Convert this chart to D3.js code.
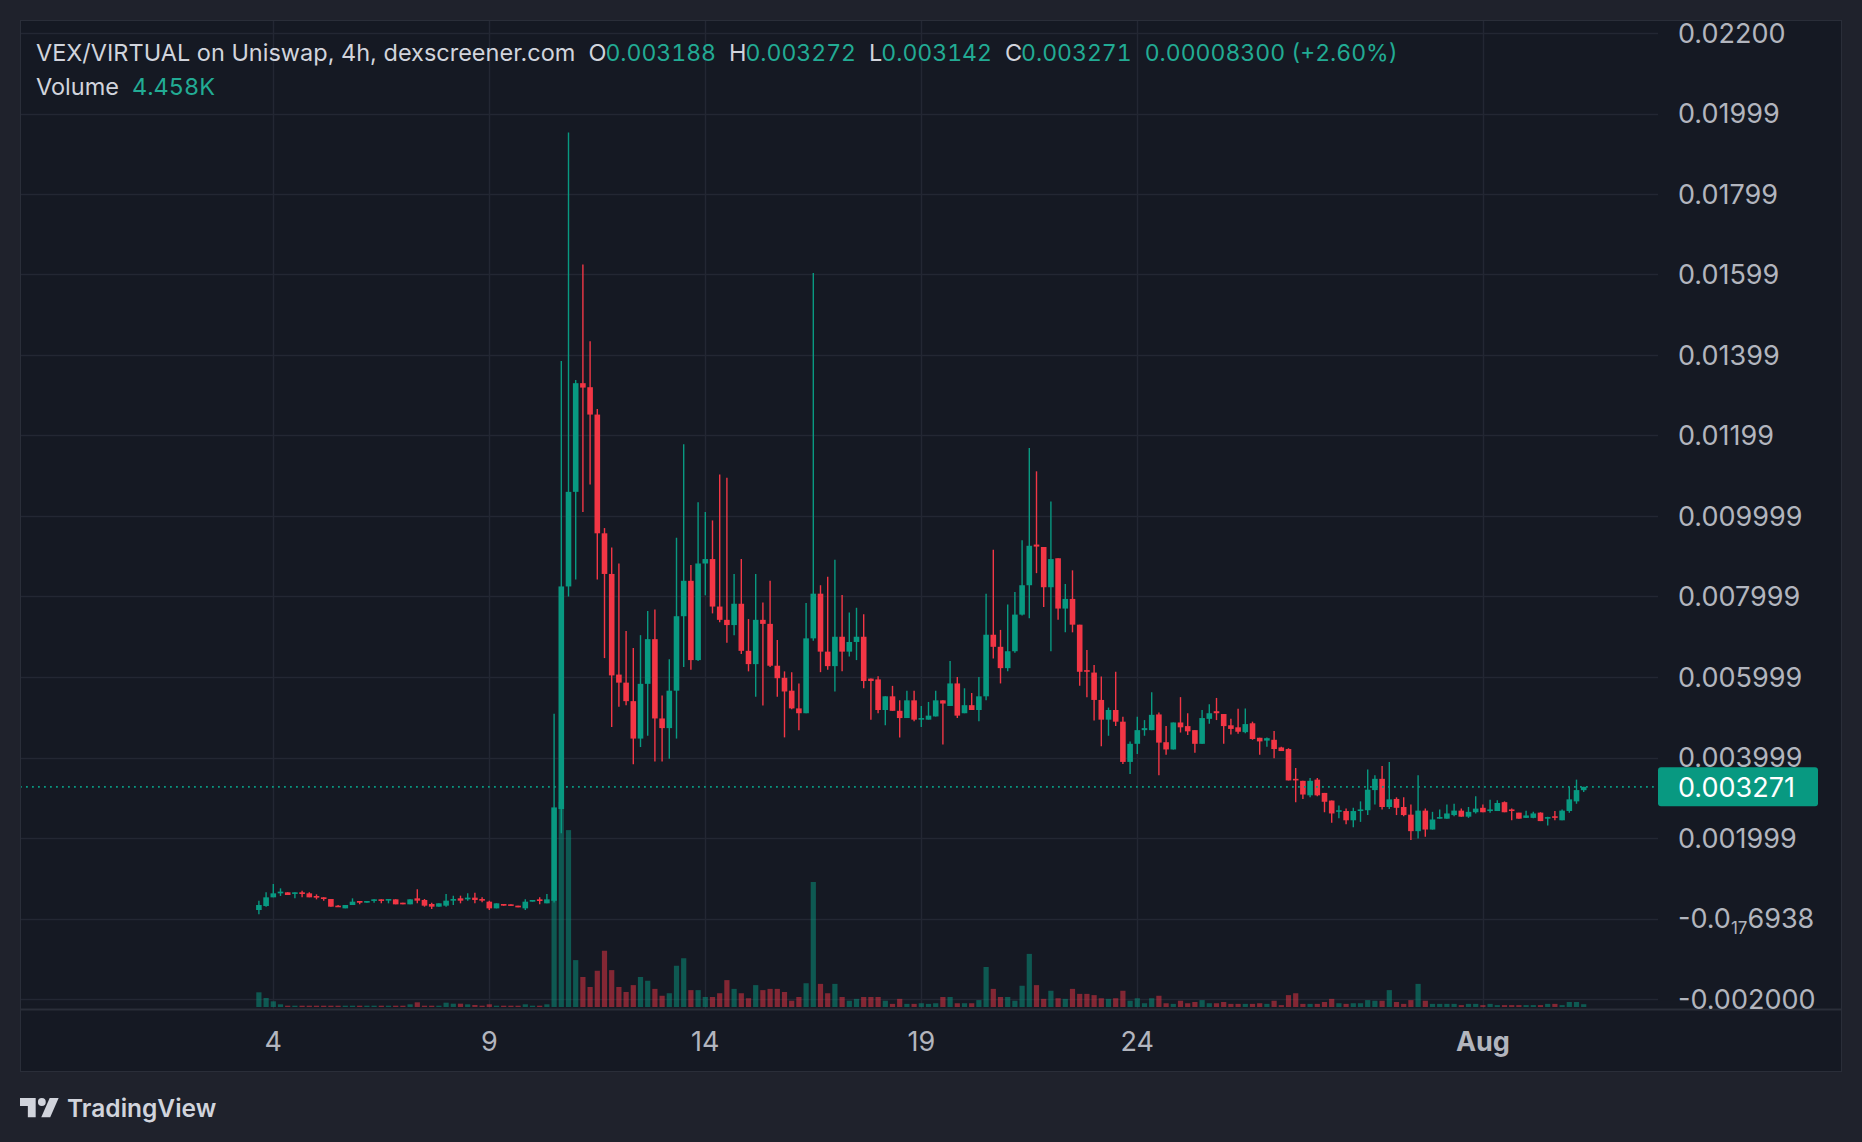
<!doctype html>
<html lang="en">
<head>
<meta charset="utf-8">
<title>VEX/VIRTUAL on Uniswap, 4h</title>
<script src="https://d3js.org/d3.v7.min.js"></script>
<style>
  html, body { margin: 0; padding: 0; background: #1f222c; }
  svg { display: block; font-family: Inter, "Noto Sans", sans-serif; }
  .num { font-variant-numeric: tabular-nums; }
</style>
</head>
<body>
<div id="chart"></div>
<script>
// 4h candles, first bar 3 Jul 16:00 UTC
const firstBar = "2024-07-03T16:00:00Z";

const opens = [
  .000211, .00031, .000526, .000625, .00065, .000625, .00065, .000625, .000559, .000526,
  .000484, .000319, .000252, .000335, .000435, .000393, .000443, .000476, .000451, .000476,
  .000393, .000352, .000501, .00046, .00036, .000294, .000319, .000443, .000501, .000476,
  .000518, .000484, .000418, .000252, .00036, .000352, .000319, .000252, .000418, .000476,
  .000377, .00044, .00272, .00825, .0106, .0133, .0132, .01252, .00957, .00856,
  .00606, .00586, .0054, .00447, .00583, .00694, .00497, .00473, .00566, .00751,
  .00839, .00642, .00882, .00893, .00775, .00742, .00729, .00782, .00665, .00632,
  .00742, .00732, .00628, .00598, .00566, .00522, .0051, .00696, .00807, .00663,
  .00627, .007, .00663, .00687, .007, .00596, .00594, .00518, .00552, .00516,
  .00498, .00542, .00494, .00494, .00502, .00542, .00528, .00584, .0051, .0053,
  .00518, .00552, .00705, .00675, .00622, .00664, .00755, .00828, .00929, .00923,
  .00823, .00895, .0077, .00794, .0073, .00617, .00611, .00543, .00494, .00518,
  .00489, .00389, .00434, .00468, .00468, .00507, .00438, .0042, .00487, .00478,
  .00468, .00434, .00496, .00515, .00508, .0048, .00475, .00463, .00485, .00449,
  .00442, .00444, .00425, .00421, .00347, .00342, .00306, .00345, .00312, .00293,
  .00265, .00267, .00244, .00267, .00269, .00319, .00347, .00277, .00297, .00277,
  .00258, .00217, .00268, .00221, .00248, .00248, .00257, .00268, .00253, .00264,
  .00275, .00267, .00267, .00289, .00271, .00263, .0025, .0025, .00263, .00249,
  .00254, .00244, .00267, .00291, .003188
];
const highs = [
  .000443, .00065, .000857, .000749, .00065, .00065, .000691, .00065, .0006, .000526,
  .000484, .000335, .000335, .000501, .000435, .000435, .000476, .000476, .000484, .000476,
  .000393, .000476, .000725, .000484, .000393, .000377, .000609, .000567, .000567, .000625,
  .000642, .000526, .000443, .000377, .00036, .000352, .000319, .000476, .00046, .000526,
  .000609, .00509, .01385, .01953, .01338, .01625, .01434, .01266, .0097, .00922,
  .00882, .00714, .00672, .00704, .00764, .00768, .00554, .00644, .00946, .01178,
  .00878, .01034, .0101, .00989, .01103, .01095, .00856, .00893, .00744, .00856,
  .00785, .00839, .00692, .00614, .00612, .00584, .00784, .01604, .00828, .00849,
  .00891, .00804, .0076, .00772, .00756, .00596, .00602, .00552, .00578, .00542,
  .00566, .00566, .00528, .00538, .00566, .00542, .0064, .006, .00572, .0056,
  .006, .00807, .00916, .00717, .0078, .00811, .0094, .01169, .01111, .00923,
  .01036, .00895, .00831, .00865, .0073, .00667, .0063, .00601, .00524, .00613,
  .00501, .0044, .00501, .00493, .00562, .00512, .00478, .00487, .0055, .0051,
  .00468, .00518, .00532, .00548, .00508, .00496, .00521, .00522, .00489, .00449,
  .0045, .00466, .00427, .00423, .00374, .00342, .00349, .00349, .00312, .00293,
  .00281, .00273, .00275, .00291, .0037, .00356, .00379, .00389, .00301, .00301,
  .00283, .00356, .00273, .00265, .00271, .00283, .00285, .00273, .00277, .00304,
  .00283, .00295, .00294, .00291, .00273, .00263, .00268, .00265, .00264, .00253,
  .00267, .00271, .00327, .00345, .003272
];
const lows = [
  .000103, .000294, .000526, .000559, .000584, .000501, .000526, .000526, .000476, .000443,
  .000294, .000294, .000252, .000335, .000352, .000393, .000393, .000377, .000377, .000352,
  .000352, .000352, .000377, .000294, .000236, .000294, .000294, .000335, .000377, .000443,
  .000377, .000402, .000211, .000252, .000319, .000319, .000277, .000211, .000418, .000352,
  .000377, .0004, .00212, .0080, .00842, .0101, .01078, .00842, .00647, .00476,
  .00526, .0053, .00383, .00426, .00454, .0039, .0039, .00397, .00447, .00625,
  .00618, .0064, .00803, .00758, .00736, .00685, .00704, .00657, .00614, .00551,
  .00529, .00625, .00551, .0045, .0052, .00468, .0051, .0069, .00612, .00618,
  .00564, .00614, .00651, .00642, .00572, .00494, .0051, .0048, .00516, .0045,
  .00498, .0049, .00476, .00494, .00502, .00432, .00528, .00498, .0051, .00518,
  .0049, .00542, .00646, .00584, .00614, .0066, .00753, .00746, .00858, .00774,
  .00664, .00742, .00711, .00711, .00578, .0055, .00492, .00428, .00454, .00478,
  .00384, .00359, .00409, .00454, .00468, .00356, .00407, .0042, .00462, .00456,
  .00412, .00434, .00484, .00493, .00434, .00457, .00459, .0046, .00444, .00407,
  .00427, .00398, .00416, .00343, .00289, .00297, .00301, .00304, .00264, .00238,
  .00249, .00234, .00227, .0024, .00257, .00283, .00271, .00272, .00257, .00254,
  .00195, .00199, .00203, .00221, .00248, .00248, .00254, .00253, .0025, .00261,
  .00264, .00263, .00267, .00264, .00244, .00248, .0025, .00249, .00242, .00231,
  .00244, .00244, .00263, .00285, .003142
];
const closes = [
  .000335, .000526, .000625, .000667, .000584, .00065, .000609, .000526, .000518, .000484,
  .000294, .000294, .000335, .000418, .000393, .000435, .000476, .000443, .000484, .000352,
  .000352, .000476, .000443, .000319, .000294, .000377, .000443, .000484, .000443, .000518,
  .00046, .000443, .000252, .000377, .000319, .000319, .000277, .000418, .00046, .000435,
  .000476, .00276, .00825, .0106, .0133, .01319, .01252, .00957, .00856, .00604,
  .00586, .0054, .00447, .00583, .00694, .00497, .00473, .00566, .00751, .00839,
  .00642, .00882, .00893, .00775, .00742, .00729, .00782, .00665, .00632, .00742,
  .00732, .00628, .00597, .00564, .00522, .0051, .00696, .00807, .00663, .00627,
  .007, .00663, .00687, .007, .0059, .0059, .00518, .00552, .00516, .00498,
  .00542, .00494, .00498, .00504, .00542, .00534, .00584, .00504, .0053, .00518,
  .00552, .00705, .00675, .00622, .00664, .00755, .00828, .00926, .00924, .00823,
  .00893, .0077, .00794, .0073, .00613, .00613, .00543, .00494, .00518, .00489,
  .00389, .00434, .00468, .00473, .00506, .00437, .0042, .00487, .00475, .00465,
  .00434, .00498, .0051, .0051, .00478, .00471, .00464, .00483, .00446, .0044,
  .00448, .00421, .00416, .00343, .00343, .00308, .00342, .00306, .0029, .00261,
  .00269, .00244, .00267, .00271, .0032, .00347, .00277, .00296, .00275, .00257,
  .00217, .00268, .00221, .00246, .00252, .00261, .00268, .00253, .00265, .00273,
  .00264, .00271, .00287, .00264, .00267, .00248, .00256, .00261, .00242, .00252,
  .0025, .00268, .00296, .00319, .003271
];
// volume in thousands
const volumes = [
  23.5, 14.4, 9.1, 4.3, 2.1, 2.1, 2.1, 2.1, 2.1, 2.1,
  2.1, 2.1, 2.1, 2.1, 2.1, 2.1, 2.1, 2.1, 2.1, 2.1,
  2.1, 4.3, 7.5, 2.1, 2.1, 2.1, 6.9, 5.3, 5.3, 4.3,
  3.2, 2.1, 4.3, 2.1, 2.1, 2.1, 2.1, 4.3, 2.1, 2.1,
  4.3, 173, 328, 283, 75, 48, 32, 58, 90, 59,
  32, 24, 35, 48, 42, 29, 18, 22, 66, 78,
  27, 27, 16, 16, 22, 43, 29, 22, 14, 35,
  27, 29, 29, 24, 10, 16, 38, 200, 37, 22,
  37, 16, 10, 13, 16, 16, 16, 10, 5, 13,
  5, 5, 6, 5, 6, 16, 16, 6, 6, 6,
  11, 64, 29, 16, 16, 10, 34, 85, 35, 13,
  26, 14, 13, 29, 21, 21, 19, 14, 13, 14,
  26, 10, 14, 6, 14, 18, 6, 5, 10, 6,
  8, 11, 6, 6, 8, 5, 5, 5, 5, 6,
  5, 10, 3, 19, 22, 5, 5, 5, 8, 13,
  6, 5, 6, 6, 11, 10, 10, 27, 8, 5,
  11, 37, 10, 5, 5, 5, 5, 3, 5, 5,
  3, 5, 3, 3, 3, 3, 3, 3, 3, 5,
  5, 3, 8, 8, 4.458
];

const priceTicks = [0.022, 0.02, 0.018, 0.016, 0.014, 0.012, 0.01, 0.008, 0.006, 0.004, 0.002, 0, -0.002];
const priceTickLabels = ["0.02200", "0.01999", "0.01799", "0.01599", "0.01399", "0.01199", "0.009999",
  "0.007999", "0.005999", "0.003999", "0.001999", "-0.0₁₇6938", "-0.002000"];
const dayTicks = ["2024-07-04", "2024-07-09", "2024-07-14", "2024-07-19", "2024-07-24", "2024-08-01"];
const dayTickLabels = ["4", "9", "14", "19", "24", "Aug"];

const W = 1862, H = 1142;
const panel = {left: 20, top: 20, right: 1841, bottom: 1071};
const plot = {left: 20, top: 20, right: 1658, bottom: 1009};

const up = "#089981", down = "#f23645";
const upVol = "rgba(8,153,129,0.5)", downVol = "rgba(242,54,69,0.5)";
const gridColor = "#232733", textColor = "#b2b5be";

const t0 = new Date(firstBar);
const bars = opens.map((o, i) => ({
  t: d3.utcHour.offset(t0, 4 * i),
  o, h: highs[i], l: lows[i], c: closes[i], v: volumes[i]
}));

// scales
const x = d3.scaleUtc()
  .domain([new Date("2024-07-04T00:00:00Z"), new Date("2024-08-01T00:00:00Z")])
  .range([273.3, 1482.9]);
const y = d3.scaleLinear().domain([-0.002, 0.022]).range([999, 33]);
const yVol = d3.scaleLinear().domain([0, 320]).range([1007, 807]);

const svg = d3.select("#chart").append("svg")
  .attr("width", W).attr("height", H);

svg.append("rect").attr("width", W).attr("height", H).attr("fill", "#1f222c");
svg.append("rect")
  .attr("x", panel.left + 0.5).attr("y", panel.top + 0.5)
  .attr("width", panel.right - panel.left).attr("height", panel.bottom - panel.top)
  .attr("fill", "#151923").attr("stroke", "#2a2e39");

const defs = svg.append("defs");
defs.append("clipPath").attr("id", "plotClip").append("rect")
  .attr("x", plot.left + 1).attr("y", plot.top + 1)
  .attr("width", plot.right - plot.left - 1).attr("height", plot.bottom - plot.top - 1);
defs.append("clipPath").attr("id", "axisClip").append("rect")
  .attr("x", plot.right).attr("y", plot.top + 1)
  .attr("width", panel.right - plot.right).attr("height", plot.bottom - plot.top - 1);

// grid
const grid = svg.append("g").attr("clip-path", "url(#plotClip)");
grid.selectAll(".hgrid").data(priceTicks).join("line")
  .attr("x1", plot.left).attr("x2", plot.right)
  .attr("y1", d => Math.round(y(d)) + 0.5).attr("y2", d => Math.round(y(d)) + 0.5)
  .attr("stroke", gridColor).attr("stroke-width", 1.5);
grid.selectAll(".vgrid").data(dayTicks).join("line")
  .attr("x1", d => Math.round(x(new Date(d))) + 0.5).attr("x2", d => Math.round(x(new Date(d))) + 0.5)
  .attr("y1", plot.top).attr("y2", plot.bottom)
  .attr("stroke", gridColor).attr("stroke-width", 1.5);

// time axis separator
svg.append("line")
  .attr("x1", panel.left).attr("x2", panel.right)
  .attr("y1", plot.bottom + 0.5).attr("y2", plot.bottom + 0.5)
  .attr("stroke", "#2a2e39").attr("stroke-width", 2);

const chart = svg.append("g").attr("clip-path", "url(#plotClip)");

// volume
chart.selectAll(".vol").data(bars).join("rect")
  .attr("x", d => x(d.t) - 2.6)
  .attr("width", 5.2)
  .attr("y", d => yVol(d.v))
  .attr("height", d => yVol(0) - yVol(d.v))
  .attr("fill", d => d.c >= d.o ? upVol : downVol);

// wicks
chart.selectAll(".wick").data(bars).join("line")
  .attr("x1", d => x(d.t)).attr("x2", d => x(d.t))
  .attr("y1", d => y(d.h)).attr("y2", d => y(d.l))
  .attr("stroke", d => d.c >= d.o ? up : down)
  .attr("stroke-width", 1.4);

// bodies
chart.selectAll(".body").data(bars).join("rect")
  .attr("x", d => x(d.t) - 2.8)
  .attr("width", 5.6)
  .attr("y", d => y(Math.max(d.o, d.c)))
  .attr("height", d => Math.max(1.6, Math.abs(y(d.o) - y(d.c))))
  .attr("fill", d => d.c >= d.o ? up : down);

// last price line
const last = bars[bars.length - 1];
const yLast = y(last.c);
chart.append("line")
  .attr("x1", plot.left).attr("x2", plot.right)
  .attr("y1", yLast).attr("y2", yLast)
  .attr("stroke", up).attr("stroke-width", 1.8)
  .attr("stroke-dasharray", "1.8 4.2");

// price axis labels
const axisG = svg.append("g").attr("clip-path", "url(#axisClip)");
const subMap = {"₀": "0", "₁": "1", "₂": "2", "₃": "3", "₄": "4", "₅": "5", "₆": "6", "₇": "7", "₈": "8", "₉": "9"};
priceTicks.forEach((p, i) => {
  const t = axisG.append("text")
    .attr("x", 1678).attr("y", y(p))
    .attr("dy", "0.36em")
    .attr("fill", textColor)
    .attr("font-size", 27);
  const parts = priceTickLabels[i].split(/([₀-₉]+)/);
  let shifted = false;
  parts.forEach(part => {
    if (!part) return;
    if (/[₀-₉]/.test(part)) {
      t.append("tspan").attr("font-size", 17).attr("dy", 6)
        .text(part.split("").map(c => subMap[c]).join(""));
      shifted = true;
    } else {
      const s = t.append("tspan").text(part);
      if (shifted) { s.attr("dy", -6); shifted = false; }
    }
  });
});

// last price tag
svg.append("rect")
  .attr("x", plot.right).attr("y", yLast - 19.5)
  .attr("width", 160).attr("height", 39).attr("rx", 3)
  .attr("fill", up);
svg.append("text")
  .attr("x", 1678).attr("y", yLast).attr("dy", "0.36em")
  .attr("fill", "#ffffff").attr("font-size", 27)
  .text(last.c.toFixed(6));

// time axis labels
svg.selectAll(".tlabel").data(dayTicks).join("text")
  .attr("x", d => x(new Date(d)))
  .attr("y", 1041).attr("dy", "0.36em")
  .attr("text-anchor", "middle")
  .attr("fill", textColor)
  .attr("font-size", 27)
  .attr("font-weight", (d, i) => dayTickLabels[i] === "Aug" ? 700 : 400)
  .text((d, i) => dayTickLabels[i]);

// legend
const fmt = v => v.toFixed(6);
const change = last.c - last.o;
const legendValue = "#22ab94", legendText = "#d1d4dc";
const lg = svg.append("text").attr("x", 36).attr("y", 61).attr("font-size", 23.5);
lg.append("tspan").attr("fill", legendText).text("VEX/VIRTUAL on Uniswap, 4h, dexscreener.com");
[["O", last.o], ["H", last.h], ["L", last.l], ["C", last.c]].forEach(([k, v]) => {
  lg.append("tspan").attr("dx", 13).attr("fill", legendText).text(k);
  lg.append("tspan").attr("class", "num").attr("dx", -1).attr("font-size", 23)
    .attr("fill", legendValue).text(fmt(v));
});
lg.append("tspan").attr("class", "num").attr("dx", 13).attr("font-size", 23).attr("fill", legendValue)
  .text(`${change.toFixed(8)} (+${(change / last.o * 100).toFixed(2)}%)`);

const lv = svg.append("text").attr("x", 36).attr("y", 95).attr("font-size", 23.5);
lv.append("tspan").attr("fill", legendText).text("Volume");
lv.append("tspan").attr("class", "num").attr("dx", 13).attr("fill", legendValue).text(`${last.v.toFixed(3)}K`);

// TradingView mark
const logo = svg.append("g").attr("transform", "translate(20,1097) scale(1.12)").attr("fill", "#d1d4dc");
logo.append("path").attr("d", "M14 18H7V8H0V1h14z");
logo.append("path").attr("d", "M27 18h-8l7.5-17h8z");
logo.append("circle").attr("cx", 19.5).attr("cy", 4.5).attr("r", 3.5);
svg.append("text")
  .attr("x", 67).attr("y", 1117)
  .attr("fill", "#d1d4dc").attr("font-size", 24.5).attr("font-weight", 600)
  .text("TradingView");
</script>
</body>
</html>
